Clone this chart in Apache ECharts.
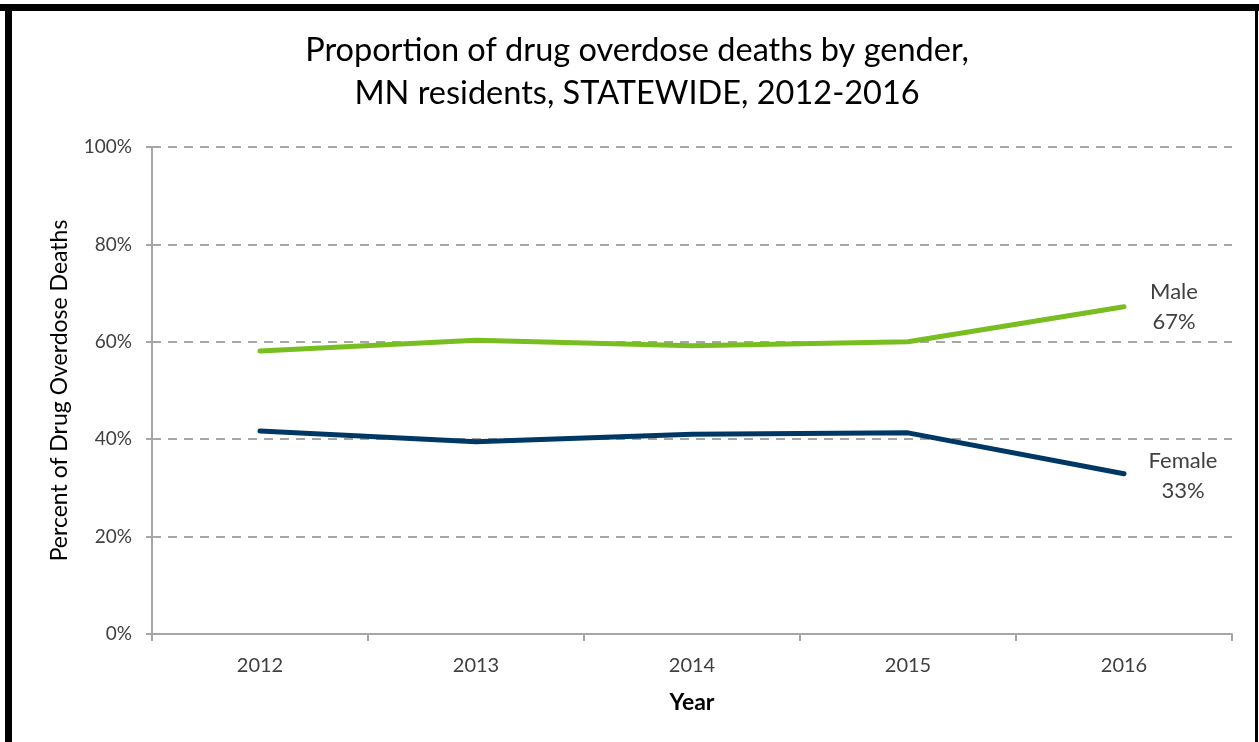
<!DOCTYPE html>
<html>
<head>
<meta charset="utf-8">
<script src="https://cdn.jsdelivr.net/npm/echarts@6/dist/echarts.min.js"></script>
<style>
html,body{margin:0;padding:0;background:#fff;}
#chart{width:1259px;height:742px;}
</style>
</head>
<body>
<div id="chart"></div>
<script>
const years = ['2012', '2013', '2014', '2015', '2016'];
const maleValues = [58.1, 60.3, 59.2, 60.0, 67.2];
const femaleValues = [41.7, 39.5, 41.0, 41.3, 32.9];
const yTicks = [0, 20, 40, 60, 80, 100];
const titleLines = ['Proportion of drug overdose deaths by gender,', 'MN residents, STATEWIDE, 2012-2016'];

const FONT = 'Lato, "Open Sans", sans-serif';
const chart = echarts.init(document.getElementById('chart'), null, {renderer: 'canvas'});

function endLabel(offset) {
  return {
    show: true,
    position: 'inside',
    offset: offset,
    align: 'center',
    verticalAlign: 'middle',
    fontFamily: FONT,
    fontSize: 22,
    lineHeight: 30,
    color: '#404040',
    formatter: p => p.seriesName + '\n' + Math.round(p.value) + '%'
  };
}

function seriesData(values, labelOffset) {
  return values.map((v, i) => i === values.length - 1 ? {value: v, label: endLabel(labelOffset)} : v);
}

chart.setOption({
  animation: false,
  backgroundColor: '#fff',
  title: {
    text: titleLines.join('\n'),
    left: 632,
    textAlign: 'center',
    top: 24,
    textStyle: {fontFamily: FONT, fontSize: 32.5, fontWeight: 'normal', color: '#000', lineHeight: 43}
  },
  grid: {left: 152, right: 27, top: 147, bottom: 108, containLabel: false},
  xAxis: {
    type: 'category',
    data: years,
    boundaryGap: true,
    name: 'Year',
    nameLocation: 'middle',
    nameGap: 57,
    nameTextStyle: {fontFamily: FONT, fontSize: 23, fontWeight: 'bold', color: '#000'},
    axisLine: {lineStyle: {color: '#A6A6A6', width: 2}},
    axisTick: {show: true, length: 7, lineStyle: {color: '#A6A6A6', width: 2}, alignWithLabel: false},
    axisLabel: {fontFamily: FONT, fontSize: 20, color: '#404040', margin: 22},
    splitLine: {show: false}
  },
  yAxis: {
    type: 'value',
    min: 0,
    max: 100,
    interval: 20,
    name: 'Percent of Drug Overdose Deaths',
    nameLocation: 'middle',
    nameGap: 81,
    nameTextStyle: {fontFamily: FONT, fontSize: 23, color: '#000'},
    axisLine: {show: true, lineStyle: {color: '#A6A6A6', width: 2}},
    axisTick: {show: true, length: 6, lineStyle: {color: '#A6A6A6', width: 2}},
    axisLabel: {
      fontFamily: FONT, fontSize: 19, color: '#404040', margin: 20,
      formatter: v => (yTicks.indexOf(v) >= 0 ? v + '%' : '')
    },
    splitLine: {show: true, lineStyle: {color: '#A6A6A6', width: 2, type: [9, 7]}}
  },
  series: [
    {
      name: 'Male',
      type: 'line',
      data: seriesData(maleValues, [50, 0]),
      symbol: 'circle',
      symbolSize: 0,
      showSymbol: true,
      smooth: false,
      lineStyle: {color: '#78BE20', width: 5, cap: 'round', join: 'round'},
      itemStyle: {color: '#78BE20'},
      z: 3
    },
    {
      name: 'Female',
      type: 'line',
      data: seriesData(femaleValues, [59, 2]),
      symbol: 'circle',
      symbolSize: 0,
      showSymbol: true,
      smooth: false,
      lineStyle: {color: '#003865', width: 5, cap: 'round', join: 'round'},
      itemStyle: {color: '#003865'},
      z: 3
    }
  ],
  graphic: [
    {type: 'rect', shape: {x: 0, y: 4, width: 1259, height: 7}, style: {fill: '#000'}, z: 100},
    {type: 'rect', shape: {x: 5, y: 4, width: 7, height: 738}, style: {fill: '#000'}, z: 100},
    {type: 'rect', shape: {x: 1255, y: 4, width: 3, height: 738}, style: {fill: '#000'}, z: 100}
  ]
});
</script>
</body>
</html>
